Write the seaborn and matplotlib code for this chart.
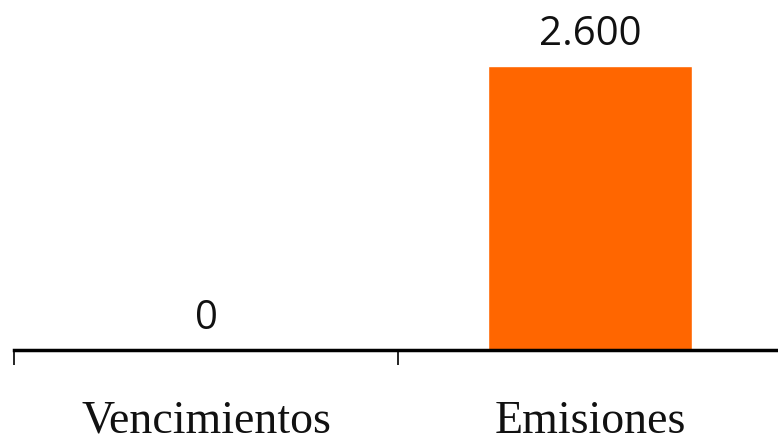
import matplotlib
matplotlib.use("Agg")
import matplotlib.pyplot as plt
import seaborn as sns
import pandas as pd

categorias = ["Vencimientos", "Emisiones"]
valores = [0, 2600]

df = pd.DataFrame({"categoria": categorias, "valor": valores})

sns.set_style("white")
plt.rcParams['font.family'] = ['Open Sans', 'DejaVu Sans']

fig = plt.figure(figsize=(7.78, 4.44), dpi=100)
ax = fig.add_axes([14 / 778, 1 - 350 / 444, 768 / 778, 350 / 444])

sns.barplot(data=df, x="categoria", y="valor", color="#FF6600", width=0.53,
            saturation=1, ax=ax)

ax.set_xlim(-0.5, 1.5)
ax.set_ylim(0, 2600 * 350 / 284)

for i, v in enumerate(valores):
    ax.annotate(f"{v:,}".replace(",", "."), (i, v), xytext=(0, 8),
                textcoords="offset points", ha="center", va="bottom",
                fontsize=29, color="#111111")

for s in ["top", "right", "left"]:
    ax.spines[s].set_visible(False)
ax.spines["bottom"].set_linewidth(2.5)
ax.spines["bottom"].set_color("black")

ax.set_yticks([])
ax.set_xticks([0, 1])
ax.set_xticklabels(categorias, fontsize=33, family="Liberation Serif", color="#111111")
ax.tick_params(axis="x", which="major", bottom=True, length=0, pad=36)
ax.set_xticks([-0.5, 0.5, 1.5], minor=True)
ax.tick_params(axis="x", which="minor", bottom=True, length=11, width=1.2, color="black")
ax.set_xlabel("")
ax.set_ylabel("")

fig.savefig("out.png", dpi=100)
